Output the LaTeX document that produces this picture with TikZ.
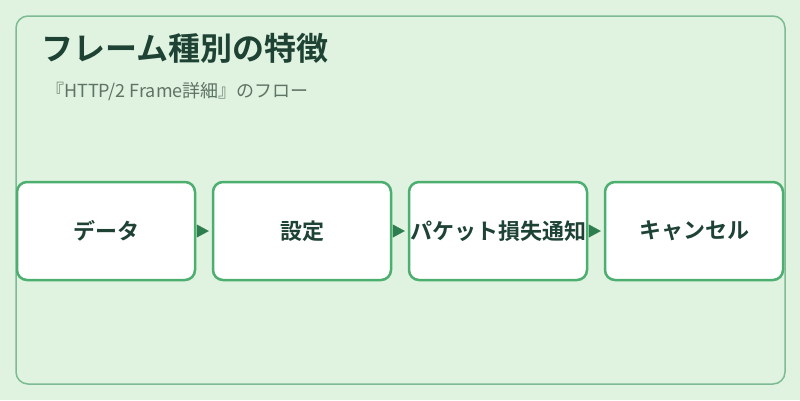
\documentclass[tikz,border=0pt]{standalone}
\usepackage{fontspec}
\setmainfont{Noto Sans CJK JP}
\newfontfamily\jpbold{Noto Sans CJK JP Bold}
\usetikzlibrary{arrows.meta}
\definecolor{bgcol}{HTML}{E0F2E0}
\definecolor{framecol}{HTML}{7DBB92}
\definecolor{boxline}{HTML}{4CAF70}
\definecolor{tipcol}{HTML}{2E7D4F}
\definecolor{inkcol}{HTML}{1E4334}
\definecolor{subcol}{HTML}{5E7464}
\tikzset{
  stepnode/.style={draw=boxline, line width=2.5pt, fill=white, rounded corners=10pt,
    minimum width=178pt, minimum height=98pt, inner sep=0pt,
    font=\jpbold\fontsize{22}{26}\selectfont, text=inkcol},
  flow/.style={draw=tipcol, line width=0.1pt, shorten <=3pt, shorten >=3pt,
    -{Triangle[length=12pt,width=13pt,fill=tipcol]}}
}
\begin{document}
\begin{tikzpicture}[x=1pt,y=-1pt]
      \useasboundingbox (0,0) rectangle (800,400);
      \fill[bgcol] (0,0) rectangle (800,400);
      \draw[framecol, line width=1.5pt, rounded corners=12pt] (16,16) rectangle (785,384);
      \draw
        (41,48) node[anchor=west, text=inkcol, font=\jpbold\fontsize{32}{38}\selectfont, inner sep=0pt] (title){フレーム種別の特徴}
        (46,91) node[anchor=west, text=subcol, font=\fontsize{18}{22}\selectfont, inner sep=0pt] (sub){『HTTP/2 Frame詳細』のフロー};
      \draw
        (106,231) node[stepnode] (data){データ}
        (302,231) node[stepnode] (settings){設定}
        (498,231) node[stepnode] (loss){パケット損失通知}
        (694,231) node[stepnode] (cancel){キャンセル};
      \begin{scope}[flow]
        \draw (data) to (settings);
        \draw (settings) to (loss);
        \draw (loss) to (cancel);
      \end{scope}
    \end{tikzpicture}
\end{document}
